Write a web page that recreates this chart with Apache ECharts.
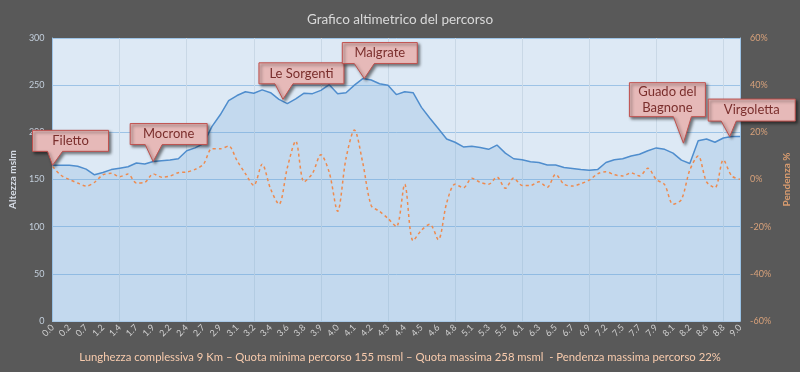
<!DOCTYPE html>
<html><head><meta charset="utf-8">
<script src="https://cdn.jsdelivr.net/npm/echarts@6/dist/echarts.min.js"></script>
<style>html,body{margin:0;padding:0;background:#595959;}#c{width:800px;height:372px;}</style>
</head><body><div id="c"></div>
<script>
// distances (km) – every second one is shown as a tick label
const distances = ['0.0','0.10','0.2','0.45','0.7','0.95','1.2','1.30','1.4','1.55','1.7','1.80','1.9','2.05','2.2','2.30','2.4','2.55','2.7','2.80',
 '2.9','3.00','3.1','3.15','3.2','3.30','3.4','3.50','3.6','3.70','3.8','3.85','3.9','3.95','4.0','4.05','4.1','4.15','4.2','4.25',
 '4.3','4.35','4.4','4.45','4.5','4.55','4.6','4.70','4.8','4.95','5.1','5.20','5.3','5.40','5.5','5.80','6.1','6.20','6.3','6.40',
 '6.5','6.60','6.7','6.80','6.9','7.05','7.2','7.35','7.5','7.60','7.7','7.80','7.9','8.00','8.1','8.15','8.2','8.40','8.6','8.70',
 '8.8','8.90','9.0'];
// elevation (m s.l.m.)
const elevation = [165,165,165,164,161,155,157.5,160.5,162,163.5,
 167.5,166.5,169,170,170.7,172,180.5,183.5,188,206,
 218.6,233.5,239,243,241.5,245,242,235,230.5,235.5,
 241.5,241,244.5,250.5,241,242,250,257,255.5,251.5,
 249.8,240,243,242,226.5,215,204,193,189.5,184.5,
 185.3,184,182,186.5,178,172,171,168.8,168,165.4,
 165.4,162.8,161.7,160.5,159.8,160.5,168,171,172,175,
 176.7,180.5,183.5,182,178,170.5,167,191,193,189.5,
 194,195.5,195.5];
// slope (%)
const slope = [5.5,1.8,0,-1.5,-2.8,-1.2,2.0,2.6,1.2,2.3,
 -1.5,-1.2,2.4,1.0,1.5,2.9,3.2,4.3,6.5,13,
 13,14.2,8,2.5,-2.5,6.5,-4,-10.5,5,16.3,
 -1,2.6,10.5,3,-13.5,9,21,7,-11,-13.5,
 -16.5,-20,-2,-26,-21.5,-19,-25.5,-10,-2,-3.5,
 0.5,-1.2,-2,1.0,-3.7,0.6,-2.5,-2.5,-1,-3.3,
 2.2,-2,-2.8,-1.8,-0.3,2.4,3.3,2,1.5,2.8,
 1.5,4.8,0,-2.2,-10.5,-8.5,4,10,-1,-3.5,
 8.3,1.5,0.1];
// callouts: names and the category index they point at
const calloutNames = ['Filetto','Mocrone','Le Sorgenti','Malgrate','Guado del\nBagnone','Virgoletta'];
const calloutIdx = [0,12,27,37,75,81];
// stray data label near the axis
const strayLabel = {idx:77, text:'8,7'};

// callout geometry (pixels relative to the anchor point)
const calloutLayout = [
 {x0:-20,x1:56,y0:-35,y1:-14,pL:-5,pR:10,tx:0,ty:0},
 {x0:-23,x1:54,y0:-38,y1:-17,pL:-8,pR:9,tx:0,ty:0},
 {x0:-20,x1:65,y0:-36.5,y1:-15.5,pL:-4,pR:14,tx:4,ty:0},
 {x0:-20.5,x1:54.5,y0:-36,y1:-15,pL:-8.5,pR:11.5,tx:1.5,ty:0},
 {x0:-52,x1:24,y0:-77.5,y1:-43.5,pL:-8,pR:10,tx:2,ty:-17},
 {x0:-23.5,x1:63.5,y0:-37.5,y1:-15.5,pL:-10.5,pR:4.5,tx:-2,ty:0}
];

const FONT = 'Lato, "Open Sans", sans-serif';
const chart = echarts.init(document.getElementById('c'), null, {renderer:'canvas'});
chart.setOption({
  animation:false,
  backgroundColor:'#595959',
  title:{text:'Grafico altimetrico del percorso', left:'center', top:8,
    textStyle:{color:'#d9d9d9', fontSize:13.5, fontWeight:'normal', fontFamily:FONT}},
  graphic:[{type:'text', left:'center', top:352,
    style:{text:'Lunghezza complessiva 9 Km – Quota minima percorso 155 msml – Quota massima 258 msml  - Pendenza massima percorso 22%',
      fill:'#f8cbad', font:'11.3px '+FONT}}],
  grid:{left:52, right:58, top:38, bottom:51, show:true, backgroundColor:'#dde9f5', borderWidth:0},
  xAxis:{type:'category', data:distances, boundaryGap:false,
    axisLine:{show:true, lineStyle:{color:'#a9c8e6'}},
    axisTick:{show:false},
    axisLabel:{interval:1, rotate:45, color:'#d0d0d0', fontSize:9, fontFamily:FONT, margin:5},
    splitLine:{show:true, interval:7, lineStyle:{color:'#c9d8e6', width:1}}},
  yAxis:[
    {type:'value', min:0, max:300, interval:50, position:'left',
     name:'Altezza mslm', nameLocation:'middle', nameRotate:90, nameGap:32,
     nameTextStyle:{color:'#d6dce5', fontSize:10, fontWeight:'bold', fontFamily:FONT},
     axisLine:{show:true, lineStyle:{color:'#9dc3e6'}}, axisTick:{show:false},
     axisLabel:{color:'#c3cfdc', fontSize:9, fontFamily:FONT, margin:8},
     splitLine:{show:true, lineStyle:{color:'#9dc3e6', width:1}}},
    {type:'value', min:-60, max:60, interval:20, position:'right',
     name:'Pendenza %', nameLocation:'middle', nameRotate:90, nameGap:40,
     nameTextStyle:{color:'#d79b6f', fontSize:10, fontWeight:'bold', fontFamily:FONT},
     axisLine:{show:true, lineStyle:{color:'#9dc3e6'}}, axisTick:{show:false},
     axisLabel:{color:'#d8a17a', fontSize:9, fontFamily:FONT, margin:10, formatter:'{value}%'},
     splitLine:{show:false}}
  ],
  series:[
    {name:'Altezza', type:'line', data:elevation, yAxisIndex:0, symbol:'none',
     lineStyle:{color:'#4f8dcd', width:1.5},
     areaStyle:{color:'rgba(91,155,213,0.29)'},
     markPoint:{symbol:'none', silent:true,
       data:[{coord:[strayLabel.idx, 0], value:strayLabel.text,
         label:{show:true, formatter:strayLabel.text, position:'inside', offset:[3,-3], color:'rgba(240,170,170,0.85)', fontSize:10, fontFamily:FONT}}]}},
    {name:'Pendenza', type:'line', data:slope, yAxisIndex:1, symbol:'none', smooth:0.3,
     lineStyle:{color:'#ee8a4e', width:1.5, type:[3,3]}, z:3},
    {name:'callouts', type:'custom', yAxisIndex:0, z:10, clip:false,
     data: calloutIdx.map(i => [i, elevation[i]]),
     renderItem: function(params, api){
       const p = api.coord([api.value(0), api.value(1)]);
       const L = calloutLayout[params.dataIndex];
       const ax = p[0], ay = p[1];
       const x0 = ax+L.x0, x1 = ax+L.x1, y0 = ay+L.y0, y1 = ay+L.y1;
       const pts = [[x0,y0],[x1,y0],[x1,y1],[ax+L.pR,y1],[ax+L.tx,ay+L.ty],[ax+L.pL,y1],[x0,y1]];
       return {type:'group', children:[
         {type:'polygon', shape:{points:pts},
          style:{fill:'#e6b9b8', stroke:'#c0504d', lineWidth:1, shadowBlur:3, shadowOffsetX:2, shadowOffsetY:2, shadowColor:'rgba(0,0,0,0.5)'}},
         {type:'text', style:{text:calloutNames[params.dataIndex], x:(x0+x1)/2, y:(y0+y1)/2, align:'center', verticalAlign:'middle',
           fill:'#7a2e2c', font:'13px '+FONT, lineHeight:16}}
       ]};
     }}
  ]
});
</script></body></html>
